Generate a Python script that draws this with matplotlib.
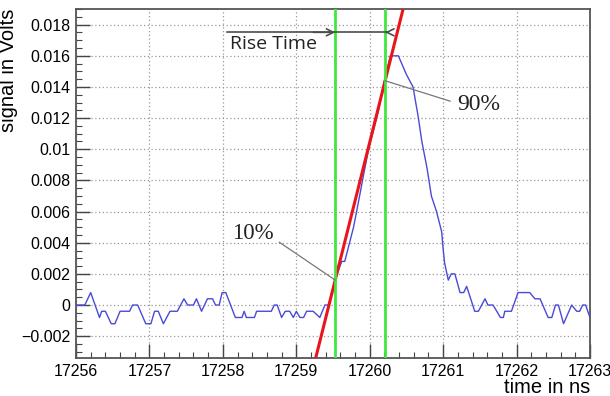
import matplotlib
matplotlib.use("Agg")
import matplotlib.pyplot as plt
import numpy as np
from matplotlib.ticker import MultipleLocator

# waveform
t = [17256.00, 17256.12, 17256.20, 17256.26, 17256.32, 17256.35, 17256.40, 17256.48, 17256.53,
     17256.60, 17256.73, 17256.77, 17256.84, 17256.95, 17257.02, 17257.07, 17257.12, 17257.19,
     17257.28, 17257.38, 17257.47, 17257.52, 17257.60, 17257.64, 17257.71, 17257.79, 17257.86,
     17257.90, 17257.95, 17257.99, 17258.04, 17258.17, 17258.26, 17258.29, 17258.32, 17258.43,
     17258.46, 17258.66, 17258.70, 17258.74, 17258.80, 17258.85, 17258.91, 17258.96, 17259.00,
     17259.05, 17259.10, 17259.14, 17259.23, 17259.32, 17259.39, 17259.44, 17259.53, 17259.62,
     17259.66, 17259.78, 17259.85, 17259.91, 17259.98, 17260.05, 17260.12, 17260.19, 17260.28,
     17260.39, 17260.50, 17260.59, 17260.66, 17260.71, 17260.78, 17260.84, 17260.91, 17260.98,
     17261.00, 17261.02, 17261.07, 17261.11, 17261.16, 17261.23, 17261.28, 17261.32, 17261.43,
     17261.48, 17261.57, 17261.61, 17261.68, 17261.78, 17261.82, 17261.84, 17261.93, 17262.02,
     17262.18, 17262.25, 17262.32, 17262.43, 17262.48, 17262.53, 17262.57, 17262.64, 17262.75,
     17262.82, 17262.86, 17262.90, 17262.94, 17263.00]
v = [0, 0, 0.0008, 0, -0.0008, -0.0004, -0.0004, -0.0012, -0.0012,
     -0.0004, -0.0004, 0, 0, -0.0012, -0.0012, -0.0004, -0.0004, -0.0012,
     -0.0004, -0.0004, 0.0004, 0, 0, 0.0004, -0.0004, 0.0004, 0.0004,
     0, 0, 0.0008, 0.0008, -0.0008, -0.0008, -0.0004, -0.0008, -0.0008,
     -0.0004, -0.0004, 0, 0, -0.0008, -0.0004, -0.0004, -0.0008, -0.0004,
     -0.0008, -0.0008, -0.0004, -0.0004, -0.0008, 0, 0, 0.0017, 0.0028,
     0.0028, 0.0050, 0.0067, 0.0082, 0.0099, 0.0112, 0.0125, 0.0142, 0.0160,
     0.0160, 0.0148, 0.0140, 0.0121, 0.0105, 0.0088, 0.0070, 0.0060, 0.0047,
     0.0036, 0.0027, 0.0016, 0.0020, 0.0020, 0.0008, 0.0008, 0.0012, -0.0004,
     -0.0004, 0.0004, 0, 0, -0.0008, -0.0008, -0.0004, -0.0004, 0.0008,
     0.0008, 0.0004, 0.0004, -0.0008, -0.0008, 0, 0, -0.0012, 0,
     -0.0004, -0.0004, 0, 0, -0.0008]

t10, t90 = 17259.53, 17260.21
v10, v90 = 0.0016, 0.0144
fit_t = [17259.0, 17260.7]

plt.rcParams["font.family"] = ["Liberation Sans", "DejaVu Sans"]

fig = plt.figure(figsize=(6.1, 3.96), dpi=100)
ax = fig.add_axes([0.1246, 0.096, 0.8426, 0.881])

ax.plot(t, v, color="#4a4ad8", lw=1.0, zorder=3)

slope = (v90 - v10) / (t90 - t10)
fit_v = [v10 + slope * (x - t10) for x in fit_t]
ax.plot(fit_t, fit_v, color="#e8161a", lw=2.2, zorder=4)

for x in (t10, t90):
    ax.axvline(x, color="#3ee83e", lw=2.0, zorder=5)

ax.set_xlim(17256, 17263)
ax.set_ylim(-0.0034, 0.019)
ax.xaxis.set_major_locator(MultipleLocator(1))
ax.xaxis.set_minor_locator(MultipleLocator(0.2))
ax.yaxis.set_minor_locator(MultipleLocator(0.0005))
ax.set_yticks(np.arange(-0.002, 0.0181, 0.002))
ax.set_yticklabels(["\u22120.002", "0", "0.002", "0.004", "0.006", "0.008",
                    "0.01", "0.012", "0.014", "0.016", "0.018"])

ax.grid(True, which="major", ls=(0, (1, 2)), color="#999999", lw=0.9)
ax.tick_params(which="both", direction="in", top=False, right=False,
               labelsize=11.5, color="#444444")
ax.tick_params(which="major", length=10, width=1.0, pad=4)
ax.tick_params(which="minor", length=4.5, width=0.8)
for s in ax.spines.values():
    s.set_color("#555555")
    s.set_linewidth(1.3)

ax.set_xlabel("time in ns", fontsize=14.5, ha="right", va="top")
ax.xaxis.set_label_coords(1.0, -0.057)
ax.set_ylabel("signal in Volts", fontsize=14.5, loc="top", labelpad=2)

# rise time arrow
ya = 0.01751
ax.plot([17258.06, 17260.25], [ya, ya], color="#4d4d4d", lw=1.2, zorder=6)
ax.annotate("", xy=(t10, ya), xytext=(t10 - 0.3, ya),
            arrowprops=dict(arrowstyle="->,head_length=0.5,head_width=0.25",
                            color="#4d4d4d", lw=1.2, shrinkA=0, shrinkB=0), zorder=6)
ax.annotate("", xy=(t90, ya), xytext=(t90 + 0.04, ya),
            arrowprops=dict(arrowstyle="->,head_length=0.5,head_width=0.25",
                            color="#4d4d4d", lw=1.2, shrinkA=0, shrinkB=0), zorder=6)
ax.text(17258.1, 0.01674, "Rise Time", fontsize=14, family="Open Sans",
        color="#222222", va="center", ha="left", zorder=6)

# percentage pointers
ax.plot([17258.77, t10], [0.00403, v10], color="#777777", lw=0.9, zorder=6)
ax.text(17258.13, 0.00459, "10%", fontsize=16.5, family="Liberation Serif",
        color="#222222", va="center", ha="left")
ax.plot([t90, 17261.095], [v90, 0.01309], color="#777777", lw=0.9, zorder=6)
ax.text(17261.195, 0.01285, "90%", fontsize=17, family="Liberation Serif",
        color="#222222", va="center", ha="left")

fig.savefig("out.png", dpi=100)
